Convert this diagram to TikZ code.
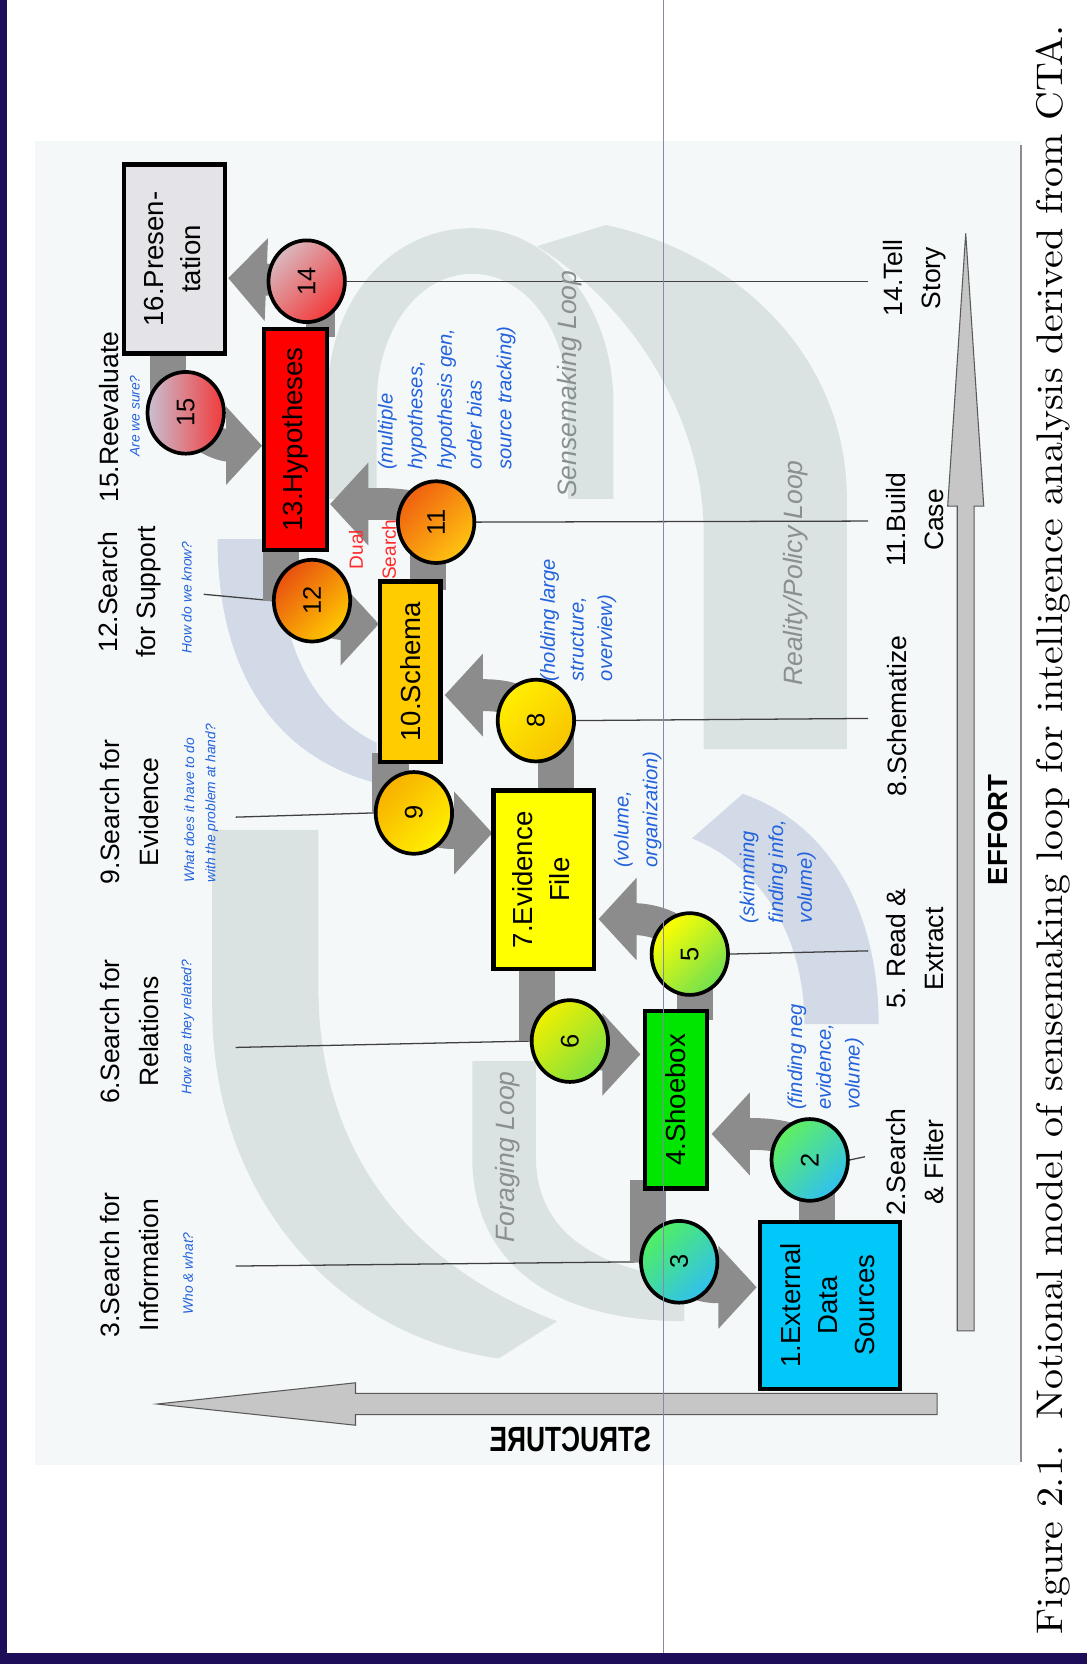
\documentclass[tikz,border=0pt]{standalone}
\usepackage{fontspec}
\setsansfont{Liberation Sans}
\usepackage{graphicx}
\usetikzlibrary{arrows.meta,shapes.geometric,calc}
\definecolor{flowgray}{HTML}{8C8C8C}
\definecolor{leadgray}{HTML}{404040}
\definecolor{bandgray}{HTML}{DAE2E2}
\definecolor{bandblue}{HTML}{D2DAE8}
\definecolor{panel}{HTML}{F5F8F8}
\definecolor{qblue}{HTML}{2262DC}
\definecolor{loopgray}{HTML}{8A8F90}
\definecolor{dualred}{HTML}{FF2A2A}
\definecolor{arrowgray}{HTML}{C6C6C6}
\definecolor{framec}{HTML}{1E0E5A}
\definecolor{guide}{HTML}{8888AA}
\definecolor{box16}{HTML}{E4E4E8}
\definecolor{box13}{HTML}{FF0000}
\definecolor{box10}{HTML}{FFCC00}
\definecolor{box7}{HTML}{FFFF00}
\definecolor{box4}{HTML}{00E600}
\definecolor{box1}{HTML}{00C8F8}
\definecolor{c14a}{HTML}{D9B8BE}
\definecolor{c14b}{HTML}{F23A3A}
\tikzset{
  lbl/.style={rotate=90, font={\sffamily\fontsize{25}{36}\selectfont}, align=center, inner sep=0pt},
  qtext/.style={rotate=90, font={\sffamily\itshape\fontsize{13}{20}\selectfont}, text=qblue, align=center, inner sep=0pt},
  note/.style={rotate=90, font={\sffamily\itshape\fontsize{19}{27}\selectfont}, text=qblue, align=left, inner sep=0pt, anchor=west},
  loopl/.style={rotate=90, font={\sffamily\itshape\fontsize{25}{25}\selectfont}, text=loopgray, inner sep=0pt},
  boxn/.style={draw=black, line width=4pt, inner sep=0pt, font={\sffamily\fontsize{26}{35}\selectfont}},
  circ/.style={ellipse, draw=black, line width=3.5pt, minimum width=72pt, minimum height=77pt, inner sep=0pt, font={\sffamily\fontsize{24}{24}\selectfont}},
  gbar/.style={draw=flowgray, line width=34pt},
  garrow/.style={draw=flowgray, line width=30pt, -{Triangle[width=76pt,length=36pt]}},
  leader/.style={draw=leadgray, line width=1.2pt},
}
\begin{document}
\begin{tikzpicture}[x=1pt,y=-1pt]
\useasboundingbox (0,0) rectangle (1024,1568);
\fill[white] (0,0) rectangle (1024,1568);
% panel
\fill[panel] (33,133) rectangle (962,1380);
% background loop bands
\fill[bandgray] (506,232) -- (571,212) .. controls (700,240) and (798,340) .. (798,470) -- (798,706) -- (663,706) -- (663,500) .. controls (663,400) and (600,290) .. (506,232) -- cycle;
\fill[bandgray] (308,470) -- (308,380) .. controls (308,280) and (370,215) .. (445,215) .. controls (520,215) and (578,290) .. (578,380) -- (578,470) -- (535,470) -- (535,380) .. controls (535,310) and (495,258) .. (445,258) .. controls (395,258) and (355,310) .. (355,380) -- (355,470) -- cycle;
\fill[bandblue] (205,508) -- (262,508) .. controls (262,610) and (295,670) .. (355,700) -- (355,738) .. controls (265,715) and (205,640) .. (205,508) -- cycle;
\fill[bandgray] (200,782) -- (300,782) -- (300,930) .. controls (300,1080) and (380,1190) .. (525,1245) -- (470,1280) .. controls (320,1260) and (200,1130) .. (200,950) -- cycle;
\fill[bandgray] (445,1000) -- (505,1000) -- (505,1090) .. controls (505,1160) and (560,1195) .. (645,1205) -- (645,1245) .. controls (520,1245) and (445,1190) .. (445,1090) -- cycle;
\fill[bandblue] (652,790) -- (700,748) .. controls (790,780) and (828,870) .. (828,965) -- (758,965) .. controls (758,880) and (715,815) .. (652,790) -- cycle;

\path
  (164.5,244) coordinate (pb16) (278.5,414) coordinate (pb13) (386.5,633) coordinate (pb10)
  (512.5,829) coordinate (pb7) (637,1036.5) coordinate (pb4) (782,1230) coordinate (pb1);

% invisible shapes giving anchors
\node[boxn, draw=none, minimum width=95pt, minimum height=178pt] (b16) at (pb16) {};
\node[boxn, draw=none, minimum width=59pt, minimum height=208pt] (b13) at (pb13) {};
\node[boxn, draw=none, minimum width=57pt, minimum height=170pt] (b10) at (pb10) {};
\node[boxn, draw=none, minimum width=95pt, minimum height=168pt] (b7) at (pb7) {};
\node[boxn, draw=none, minimum width=59pt, minimum height=167pt] (b4) at (pb4) {};
\node[boxn, draw=none, minimum width=132pt, minimum height=157pt] (b1) at (pb1) {};
\node[circ, draw=none] (c14) at (289,265) {};
\node[circ, draw=none] (c15) at (175,389) {};
\node[circ, draw=none] (c12) at (294,566) {};
\node[circ, draw=none] (c11) at (411,492) {};
\node[circ, draw=none] (c9) at (390,766) {};
\node[circ, draw=none] (c8) at (505,679) {};
\node[circ, draw=none] (c6) at (537,981) {};
\node[circ, draw=none] (c5) at (650,899) {};
\node[circ, draw=none] (c3) at (640,1189) {};
\node[circ, draw=none] (c2) at (763,1093) {};

% leader lines
\coordinate (l3) at (222,1193);
\coordinate (l6) at (222,987);
\coordinate (l9) at (222,770);
\coordinate (l12) at (192,560);
\coordinate (r14) at (818,265);
\coordinate (r11) at (818,491);
\coordinate (r8) at (818,677);
\coordinate (r5) at (818,896);
\coordinate (r2) at (815,1090);
\draw[leader] (l3) -- (c3.west);
\draw[leader] (l6) -- (c6.west);
\draw[leader] (l9) -- (c9.west);
\draw[leader] (l12) -- (c12.west);
\draw[leader] (c14.east) -- (r14);
\draw[leader] (c11.east) -- (r11);
\draw[leader] (c8.east) -- (r8);
\draw[leader] (c5.east) -- (r5);
\draw[leader] (c2.east) -- (r2);

% gray bars box -> circle
\draw[gbar] ($(c2.center)+(7,0)$) -- ($(c2.center |- b1.north)+(7,8)$);
\draw[gbar] ($(c3.center)+(-29,0)$) -- ($(c3.center |- b4.south)+(-29,-10)$);
\draw[gbar] ($(c5.center)+(5,0)$) -- ($(c5.center |- b4.north)+(5,10)$);
\draw[gbar] ($(c6.center)+(-31,0)$) -- ($(c6.center |- b7.south)+(-31,-10)$);
\draw[gbar] ($(c8.center)+(19,0)$) -- ($(c8.center |- b7.north)+(19,10)$);
\draw[gbar] ($(c9.center)+(-22,0)$) -- ($(c9.center |- b10.south)+(-22,-10)$);
\draw[gbar] ($(c11.center)+(-8,0)$) -- ($(c11.center |- b10.north)+(-8,10)$);
\draw[gbar] ($(c12.center)+(-29,0)$) -- ($(c12.center |- b13.south)+(-29,-10)$);
\draw[gbar, line width=28pt] ($(c14.center)+(13,0)$) -- ($(c14.center |- b13.north)+(13,10)$);
\draw[gbar] ($(c15.center)+(-17,0)$) -- ($(c15.center |- b16.south)+(-17,-10)$);

% gray curved arrows circle -> box
\draw[garrow] (c2.center) .. controls +(0,-25) and +(45,0) .. ($(b4.east)+(2,32)$);
\draw[garrow] (c3.center) .. controls +(5,25) and +(-40,0) .. ($(b1.west)+(-1,-17)$);
\draw[garrow] (c5.center) .. controls +(-5,-30) and +(40,0) .. ($(b7.east)+(2,37)$);
\draw[garrow] (c6.center) .. controls +(10,15) and +(-40,0) .. ($(b4.west)+(-2,-43)$);
\draw[garrow] (c8.center) .. controls +(-5,-25) and +(40,0) .. ($(b10.east)+(2,22)$);
\draw[garrow] (c9.center) .. controls +(10,20) and +(-40,0) .. ($(b7.west)+(1,-44)$);
\draw[garrow] (c11.center) .. controls +(-5,-20) and +(40,0) .. ($(b13.east)+(1,61)$);
\draw[garrow] (c12.center) .. controls +(10,20) and +(-40,0) .. ($(b10.west)+(1,-45)$);
\draw[garrow] (c14.center) -- ($(b16.east)+(1,18)$);
\draw[garrow, -{Triangle[width=72pt,length=34pt]}] (c15.center) .. controls +(10,25) and +(-35,0) .. ($(b13.west)+(0,6)$);

% boxes
\node[boxn, fill=box16, minimum width=95pt, minimum height=178pt] at (pb16) {\rotatebox{90}{\begin{tabular}{@{}c@{}}16.Presen-\\tation\end{tabular}}};
\node[boxn, fill=box13, minimum width=59pt, minimum height=208pt] at (pb13) {\rotatebox{90}{13.Hypotheses}};
\node[boxn, fill=box10, minimum width=57pt, minimum height=170pt] at (pb10) {\rotatebox{90}{10.Schema}};
\node[boxn, fill=box7, minimum width=95pt, minimum height=168pt] at (pb7) {\rotatebox{90}{\begin{tabular}{@{}c@{}}7.Evidence\\File\end{tabular}}};
\node[boxn, fill=box4, minimum width=59pt, minimum height=167pt] at (pb4) {\rotatebox{90}{4.Shoebox}};
\node[boxn, fill=box1, minimum width=132pt, minimum height=157pt] at (pb1) {\rotatebox{90}{\begin{tabular}{@{}c@{}}1.External\\Data\\Sources\end{tabular}}};

% circles
\node[circ, top color=c14a, bottom color=c14b, shading angle=45] at (c14) {\rotatebox{90}{14}};
\node[circ, left color={rgb,255:red,200;green,192;blue,210}, right color={rgb,255:red,242;green,58;blue,58}] at (c15) {\rotatebox{90}{15}};
\node[circ, top color={rgb,255:red,232;green,80;blue,16}, bottom color={rgb,255:red,255;green,200;blue,0}, shading angle=45] at (c12) {\rotatebox{90}{12}};
\node[circ, top color={rgb,255:red,240;green,96;blue,16}, bottom color={rgb,255:red,255;green,196;blue,16}, shading angle=45] at (c11) {\rotatebox{90}{11}};
\node[circ, top color={rgb,255:red,248;green,176;blue,0}, bottom color={rgb,255:red,255;green,240;blue,0}, shading angle=45] at (c9) {\rotatebox{90}{9}};
\node[circ, top color={rgb,255:red,255;green,238;blue,0}, bottom color={rgb,255:red,248;green,196;blue,0}, shading angle=45] at (c8) {\rotatebox{90}{8}};
\node[circ, top color={rgb,255:red,240;green,240;blue,0}, bottom color={rgb,255:red,128;green,224;blue,64}, shading angle=45] at (c6) {\rotatebox{90}{6}};
\node[circ, top color={rgb,255:red,255;green,255;blue,0}, bottom color={rgb,255:red,112;green,224;blue,80}, shading angle=45] at (c5) {\rotatebox{90}{5}};
\node[circ, top color={rgb,255:red,80;green,240;blue,96}, bottom color={rgb,255:red,48;green,192;blue,240}, shading angle=45] at (c3) {\rotatebox{90}{3}};
\node[circ, top color={rgb,255:red,96;green,240;blue,96}, bottom color={rgb,255:red,48;green,192;blue,240}, shading angle=45] at (c2) {\rotatebox{90}{2}};

% left labels
\node[lbl] (t3) at (122,1192) {3.Search for\\Information};
\node[qtext] (q3) at (177,1200) {Who \& what?};
\node[lbl] (t6) at (122,972) {6.Search for\\Relations};
\node[qtext] (q6) at (177,968) {How are they related?};
\node[lbl] (t9) at (122,765) {9.Search for\\Evidence};
\node[qtext, align=left, anchor=west] (q9) at (189.5,832) {What does it have to do\\with the problem at hand?};
\node[lbl] (t12) at (122,558) {12.Search\\for Support};
\node[qtext] (q12) at (176,563) {How do we know?};
\node[lbl] (t15) at (103,393) {15.Reevaluate};
\node[qtext] (q15) at (127,392) {Are we sure?};

% right labels
\node[lbl] (t2) at (862,1095) {2.Search\\\& Filter};
\node[lbl] (t5) at (862,894) {5. Read \&\\Extract};
\node[lbl] (t8) at (845,675) {8.Schematize};
\node[lbl] (t11) at (862,490) {11.Build\\Case};
\node[lbl] (t14) at (862,262) {14.Tell\\Story};

% blue notes
\node[note] (nF) at (778,1046) {(finding neg\\evidence,\\volume)};
\node[note] (nS) at (733,870) {(skimming\\finding info,\\volume)};
\node[note] (nV) at (601,818) {(volume,\\organization)};
\node[note] (nH) at (545,642) {(holding large\\structure,\\overview)};
\node[note, font={\sffamily\itshape\fontsize{19}{28}\selectfont}] (nM) at (421,443) {(multiple\\hypotheses,\\hypothesis gen,\\order bias\\source tracking)};
\node[rotate=90, font={\sffamily\fontsize{18}{31}\selectfont}, text=dualred, align=center, inner sep=0pt] (ds) at (351,518) {Dual\\Search};

% loop labels
\node[loopl] (lS) at (537,362) {Sensemaking Loop};
\node[loopl] (lR) at (750,540) {Reality/Policy Loop};
\node[loopl] (lF) at (478,1090) {Foraging Loop};

% effort and structure arrows
\filldraw[fill=arrowgray, draw=black!65, line width=1pt] (902,1254) -- (918,1254) -- (918,477) -- (927,477) -- (910,220) -- (893,477) -- (902,477) -- cycle;
\filldraw[fill=arrowgray, draw=black!65, line width=1pt] (883,1313) -- (883,1333) -- (335,1333) -- (335,1343) -- (148,1323) -- (335,1303) -- (335,1313) -- cycle;
\node[rotate=90, font={\sffamily\bfseries\fontsize{26}{26}\selectfont}, inner sep=0pt] (eff) at (940,782) {EFFORT};
\node[font={\sffamily\bfseries\fontsize{33}{33}\selectfont}, inner sep=0pt] (strc) at (538,1356) {\scalebox{-0.75}[1]{STRUCTURE}};

% caption and rule
\draw[black!45, line width=1.2pt] (962,137) -- (962,1378);
\node[rotate=90, anchor=base west, inner sep=0pt] (cap) at (1001,1540) {\resizebox{1516pt}{25pt}{Figure 2.1.\ \ Notional model of sensemaking loop for intelligence analysis derived from CTA.}};

% frame and guide line
\draw[guide, line width=0.8pt] (625,0) -- (625,1558);
\fill[framec] (0,0) rectangle (7,1568);
\fill[framec] (0,1558) rectangle (1024,1568);
\end{tikzpicture}
\end{document}
